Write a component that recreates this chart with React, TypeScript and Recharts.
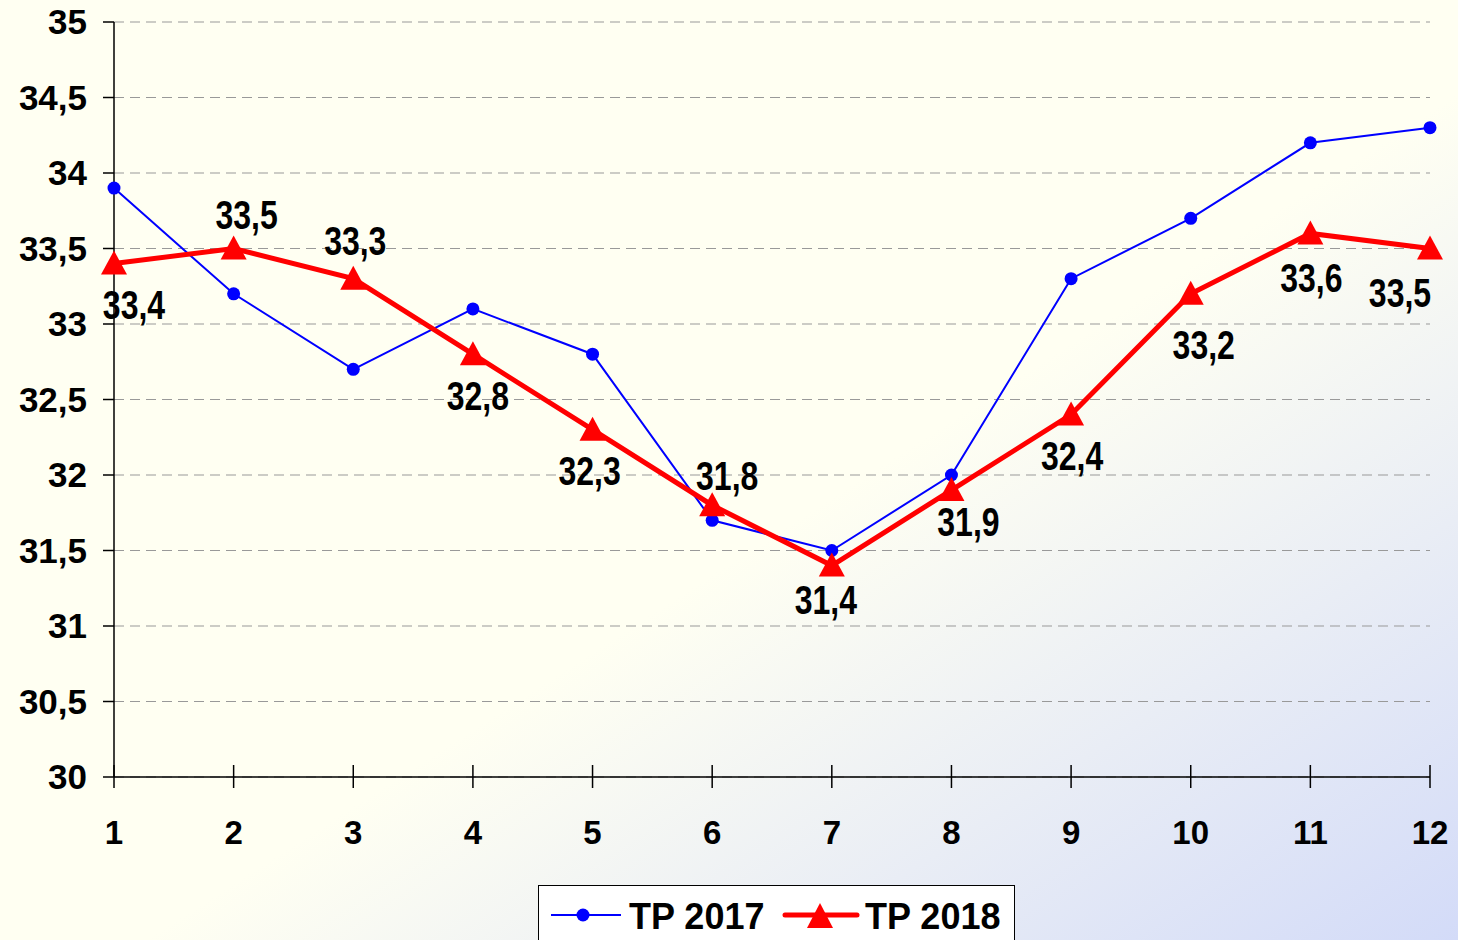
import { LineChart, Line, XAxis, YAxis, CartesianGrid } from "recharts";

const months = [1, 2, 3, 4, 5, 6, 7, 8, 9, 10, 11, 12];
const tp2017 = [33.9, 33.2, 32.7, 33.1, 32.8, 31.7, 31.5, 32.0, 33.3, 33.7, 34.2, 34.3];
const tp2018 = [33.4, 33.5, 33.3, 32.8, 32.3, 31.8, 31.4, 31.9, 32.4, 33.2, 33.6, 33.5];
const yTicks = [30, 30.5, 31, 31.5, 32, 32.5, 33, 33.5, 34, 34.5, 35];

// label offsets for the red series, relative to each point
const LABEL_OFFSETS: [number, number][] = [
  [20, 42], [13, -33], [2, -38], [5, 42], [-3, 41], [15, -29],
  [-6, 35], [17, 32], [1, 42], [13, 51], [1, 45], [-30, 45],
];

const data = months.map((m, i) => ({ month: m, tp2017: tp2017[i], tp2018: tp2018[i] }));

const fmt = (v: number) => String(v).replace(".", ",");

const FONT = "'Liberation Sans', Arial, sans-serif";

const Triangle = (props: any) => {
  const { cx, cy } = props;
  if (cx == null || cy == null) return null;
  return <polygon points={`${cx - 13},${cy + 11} ${cx + 13},${cy + 11} ${cx},${cy - 13}`} fill="#ff0000" />;
};

// narrow bold look: regular bold squeezed horizontally
const RedLabel = (props: any) => {
  const { x, y, index, value } = props;
  const [dx, dy] = LABEL_OFFSETS[index] || [0, 0];
  return (
    <text
      transform={`translate(${x + dx},${y + dy}) scale(0.8,1)`}
      textAnchor="middle"
      dominantBaseline="central"
      fontFamily={FONT}
      fontWeight="bold"
      fontSize={40}
      fill="#000"
    >
      {fmt(value)}
    </text>
  );
};

const XTick = (props: any) => {
  const { x, y, payload } = props;
  const axisY = y - 11 - 34;
  return (
    <g>
      <line x1={x} x2={x} y1={axisY - 12} y2={axisY + 11} stroke="#000" strokeWidth={1.5} />
      <text x={x} y={axisY + 55} textAnchor="middle" dominantBaseline="central" fontFamily={FONT} fontWeight="bold" fontSize={33} fill="#000">
        {payload.value}
      </text>
    </g>
  );
};

export default function App() {
  return (
    <div
      style={{
        position: "absolute",
        left: 0,
        top: 0,
        width: 1458,
        height: 940,
        overflow: "hidden",
        background: "linear-gradient(to bottom right, #fffff2 55%, #d3dbf8 100%)",
      }}
    >
      <LineChart width={1458} height={940} data={data} margin={{ top: 22, right: 28, left: 0, bottom: 103 }}>
        <CartesianGrid horizontal vertical={false} stroke="#999" strokeDasharray="10 6" />
        <XAxis
          dataKey="month"
          type="number"
          domain={[1, 12]}
          ticks={months}
          interval={0}
          height={60}
          tickSize={11}
          tickMargin={34}
          tickLine={false}
          tick={<XTick />}
          stroke="#000"
          strokeWidth={1.5}
        />
        <YAxis
          domain={[30, 35]}
          ticks={yTicks}
          interval={0}
          width={114}
          tickSize={11}
          tickMargin={16}
          tickFormatter={fmt}
          tick={{ fill: "#000", fontFamily: FONT, fontWeight: "bold", fontSize: 35 }}
          stroke="#000"
          strokeWidth={1.5}
        />
        <Line
          dataKey="tp2017"
          stroke="#0000ff"
          strokeWidth={2}
          dot={{ r: 6.5, fill: "#0000ff", stroke: "none" }}
          isAnimationActive={false}
        />
        <Line
          dataKey="tp2018"
          stroke="#ff0000"
          strokeWidth={5}
          dot={<Triangle />}
          label={<RedLabel />}
          isAnimationActive={false}
        />
      </LineChart>
      <div
        style={{
          position: "absolute",
          left: 538,
          top: 885,
          width: 477,
          height: 70,
          background: "#fff",
          border: "1.5px solid #000",
          boxSizing: "border-box",
        }}
      >
        <svg width={477} height={70} style={{ position: "absolute", left: 0, top: 0 }}>
          <line x1={12} x2={82} y1={29} y2={29} stroke="#0000ff" strokeWidth={2} />
          <circle cx={44} cy={29} r={6.5} fill="#0000ff" />
          <text x={90} y={30} dominantBaseline="central" fontFamily={FONT} fontWeight="bold" fontSize={36} fill="#000">
            TP 2017
          </text>
          <line x1={246} x2={318} y1={29} y2={29} stroke="#ff0000" strokeWidth={5} strokeLinecap="round" />
          <polygon points="268,42 294,42 281,17" fill="#ff0000" />
          <text x={326} y={30} dominantBaseline="central" fontFamily={FONT} fontWeight="bold" fontSize={36} fill="#000">
            TP 2018
          </text>
        </svg>
      </div>
    </div>
  );
}
